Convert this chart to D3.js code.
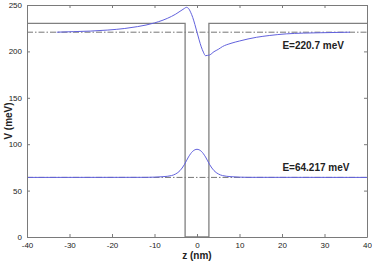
<!DOCTYPE html>
<html>
<head>
<meta charset="utf-8">
<script src="https://cdn.jsdelivr.net/npm/d3@7"></script>
<style>
  body { margin: 0; background: #fff; }
  text { font-family: "Liberation Sans", Arial, sans-serif; }
</style>
</head>
<body>
<div id="chart"></div>
<script>
// potential profile (square well)
var potZ = [-40, -2.8, -2.8, 2.8, 2.8, 40];
var potV = [230.3, 230.3, 0, 0, 230.3, 230.3];

// energy levels
var levels = [220.7, 64.217];
var levelLabels = ["E=220.7 meV", "E=64.217 meV"];

// upper state, offset at its energy
var psi2Z = [-33, -29, -25, -21, -17, -14, -12, -10, -8, -6, -5, -4, -3, -2.5, -2, -1.5, -1, -0.5, 0, 0.5, 1, 1.5, 2, 2.5, 3, 4, 5, 6, 8, 10, 12, 14, 17, 21, 25, 29, 36];
var psi2V = [220.7, 221.3, 221.9, 223.0, 224.7, 226.7, 228.4, 230.7, 233.7, 237.7, 240.2, 243.2, 246.2, 247.5, 246.3, 242.2, 236.5, 229.0, 220.7, 212.4, 204.9, 199.2, 195.4, 195.7, 196.2, 199.7, 202.2, 205.2, 208.7, 211.2, 213.4, 215.2, 217.1, 218.9, 219.7, 220.1, 220.7];

// ground state
var psi1Z = [-40, -12, -10, -8, -6, -5, -4, -3, -2, -1, 0, 1, 2, 3, 4, 5, 6, 8, 10, 12, 40];
var psi1V = [64.217, 64.3, 64.5, 65.0, 66.2, 68.0, 71.5, 77.8, 86.3, 92.4, 94.5, 92.4, 86.3, 77.8, 71.5, 68.0, 66.2, 65.0, 64.5, 64.3, 64.217];

var xTicks = [-40, -30, -20, -10, 0, 10, 20, 30, 40];
var yTicks = [0, 50, 100, 150, 200, 250];

var margin = { top: 5, right: 5, bottom: 24, left: 27 },
    width = 372 - margin.left - margin.right,
    height = 261 - margin.top - margin.bottom;

var svg = d3.select("#chart")
  .append("svg")
  .attr("width", 372)
  .attr("height", 261)
  .append("g")
  .attr("transform", "translate(" + margin.left + "," + margin.top + ")");

var x = d3.scaleLinear().domain([-40, 40]).range([0, width]);
var y = d3.scaleLinear().domain([0, 250]).range([height, 0]);

var line = d3.line()
  .x(function(d) { return x(d[0]); })
  .y(function(d) { return y(d[1]); });

// dash-dot energy lines
svg.selectAll(".level")
  .data(levels)
  .enter()
  .append("line")
  .attr("class", "level")
  .attr("x1", x(-40))
  .attr("x2", x(40))
  .attr("y1", function(d) { return y(d); })
  .attr("y2", function(d) { return y(d); })
  .attr("stroke", "#666")
  .attr("stroke-width", 0.9)
  .attr("stroke-dasharray", "6,2,1.5,2");

// well
svg.append("path")
  .datum(d3.zip(potZ, potV))
  .attr("d", line)
  .attr("fill", "none")
  .attr("stroke", "#808080")
  .attr("stroke-width", 1.3);

// wavefunctions
[d3.zip(psi2Z, psi2V), d3.zip(psi1Z, psi1V)].forEach(function(pts) {
  svg.append("path")
    .datum(pts)
    .attr("d", line.curve(d3.curveMonotoneX))
    .attr("fill", "none")
    .attr("stroke", "#6262dd")
    .attr("stroke-width", 1);
});

// plain hyphen minus like matlab
var fmt = function(d) { return String(d); };

// axes, ticks inside like matlab
var axisCol = "#7a7a7a";
var xb = svg.append("g").attr("transform", "translate(0," + height + ")")
  .call(d3.axisBottom(x).tickValues(xTicks).tickFormat(fmt).tickSizeInner(-3).tickSizeOuter(0).tickPadding(5));
var xt = svg.append("g")
  .call(d3.axisTop(x).tickValues(xTicks).tickSizeInner(-3).tickSizeOuter(0).tickFormat(""));
var yl = svg.append("g")
  .call(d3.axisLeft(y).tickValues(yTicks).tickFormat(fmt).tickSizeInner(-3).tickSizeOuter(0).tickPadding(5));
var yr = svg.append("g").attr("transform", "translate(" + width + ",0)")
  .call(d3.axisRight(y).tickValues(yTicks).tickSizeInner(-3).tickSizeOuter(0).tickFormat(""));

[xb, xt, yl, yr].forEach(function(g) {
  g.selectAll("path, line").attr("stroke", axisCol).attr("stroke-width", 1);
  g.selectAll("text").attr("fill", "#222").style("font-size", "8px")
    .style("font-family", "Liberation Sans, Arial, sans-serif");
});

// level labels
svg.selectAll(".lab")
  .data(levelLabels)
  .enter()
  .append("text")
  .attr("x", x(20.1))
  .attr("y", function(d, i) { return y(levels[i]) + (i == 0 ? 17 : -6); })
  .style("font-size", "10px")
  .style("font-weight", "bold")
  .attr("fill", "#222")
  .text(function(d) { return d; });

// axis labels
svg.append("text")
  .attr("x", x(0))
  .attr("y", height + 22)
  .attr("text-anchor", "middle")
  .style("font-size", "10px")
  .style("font-weight", "bold")
  .attr("fill", "#222")
  .text("z (nm)");

svg.append("text")
  .attr("transform", "rotate(-90)")
  .attr("x", -height / 2)
  .attr("y", -15)
  .attr("text-anchor", "middle")
  .style("font-size", "10px")
  .style("font-weight", "bold")
  .attr("fill", "#222")
  .text("V (meV)");
</script>
</body>
</html>
